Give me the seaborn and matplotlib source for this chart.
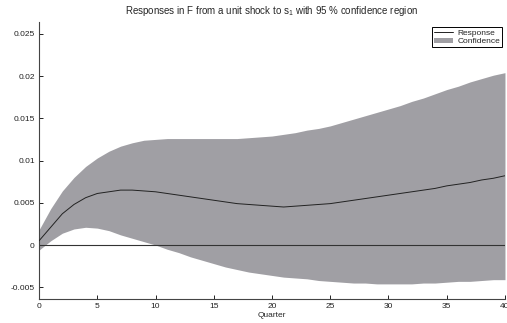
import numpy as np
import pandas as pd
import matplotlib
matplotlib.use("Agg")
import matplotlib.pyplot as plt
import seaborn as sns

quarters = list(range(41))
response = [0.0005, 0.0021, 0.0037, 0.0048, 0.0056, 0.0061, 0.0063, 0.0065, 0.0065, 0.0064,
            0.0063, 0.0061, 0.0059, 0.0057, 0.0055, 0.0053, 0.0051, 0.0049, 0.0048, 0.0047,
            0.0046, 0.0045, 0.0046, 0.0047, 0.0048, 0.0049, 0.0051, 0.0053, 0.0055, 0.0057,
            0.0059, 0.0061, 0.0063, 0.0065, 0.0067, 0.0070, 0.0072, 0.0074, 0.0077, 0.0079,
            0.0082]
upper = [0.0018, 0.0043, 0.0064, 0.0080, 0.0093, 0.0103, 0.0111, 0.0117, 0.0121, 0.0124,
         0.0125, 0.0126, 0.0126, 0.0126, 0.0126, 0.0126, 0.0126, 0.0126, 0.0127, 0.0128,
         0.0129, 0.0131, 0.0133, 0.0136, 0.0138, 0.0141, 0.0145, 0.0149, 0.0153, 0.0157,
         0.0161, 0.0165, 0.0170, 0.0174, 0.0179, 0.0184, 0.0188, 0.0193, 0.0197, 0.0201,
         0.0204]
lower = [-0.0006, 0.0005, 0.0014, 0.0019, 0.0021, 0.0020, 0.0017, 0.0012, 0.0008, 0.0004,
         0.0000, -0.0005, -0.0009, -0.0014, -0.0018, -0.0022, -0.0026, -0.0029, -0.0032, -0.0034,
         -0.0036, -0.0038, -0.0039, -0.0040, -0.0042, -0.0043, -0.0044, -0.0045, -0.0045, -0.0046,
         -0.0046, -0.0046, -0.0046, -0.0045, -0.0045, -0.0044, -0.0043, -0.0043, -0.0042, -0.0041,
         -0.0041]
xticks = [0, 5, 10, 15, 20, 25, 30, 35, 40]
yticks = [-0.005, 0, 0.005, 0.01, 0.015, 0.02, 0.025]
ytick_labels = ["-0.005", "0", "0.005", "0.01", "0.015", "0.02", "0.025"]

df = pd.DataFrame({"Quarter": quarters, "Response": response, "Upper": upper, "Lower": lower})

sns.set_style("ticks")
plt.rcParams["font.family"] = ["Liberation Sans", "DejaVu Sans"]

fig = plt.figure(figsize=(5.07, 3.23), dpi=100)
ax = fig.add_axes([0.077, 0.074, 0.919, 0.858])

ax.fill_between(df["Quarter"], df["Lower"], df["Upper"], color="#a09fa4",
                linewidth=0, label="Confidence", zorder=1)
ax.axhline(0, color="#333333", linewidth=0.8, zorder=2)
sns.lineplot(data=df, x="Quarter", y="Response", ax=ax, color="#222222", linewidth=0.7,
             label="Response", zorder=3)

ax.set_xlim(0, 40)
ax.set_ylim(-0.0064, 0.0264)
ax.set_xticks(xticks)
ax.set_xticklabels([str(t) for t in xticks])
ax.set_yticks(yticks)
ax.set_yticklabels(ytick_labels)
ax.tick_params(direction="in", length=3, width=0.7, labelsize=6, colors="#222222",
               pad=3)
for s in ["top", "right"]:
    ax.spines[s].set_visible(False)
for s in ["left", "bottom"]:
    ax.spines[s].set_linewidth(0.8)
    ax.spines[s].set_color("#444444")

ax.set_xlabel("Quarter", fontsize=6, labelpad=1)
ax.set_ylabel("")
ax.set_title(r"Responses in F from a unit shock to $\mathregular{s_1}$ with 95 % confidence region",
             fontsize=7, pad=6)

handles, labels = ax.get_legend_handles_labels()
order = [labels.index("Response"), labels.index("Confidence")]
leg = ax.legend([handles[i] for i in order], [labels[i] for i in order],
                loc="upper right", bbox_to_anchor=(1.0, 0.99), fontsize=6,
                frameon=True, fancybox=False, edgecolor="black", framealpha=1,
                handlelength=2.2, handleheight=0.7, borderpad=0.25, labelspacing=0.05,
                handletextpad=0.6, borderaxespad=0.3)
leg.get_frame().set_linewidth(0.7)

fig.savefig("out.png", dpi=100)
